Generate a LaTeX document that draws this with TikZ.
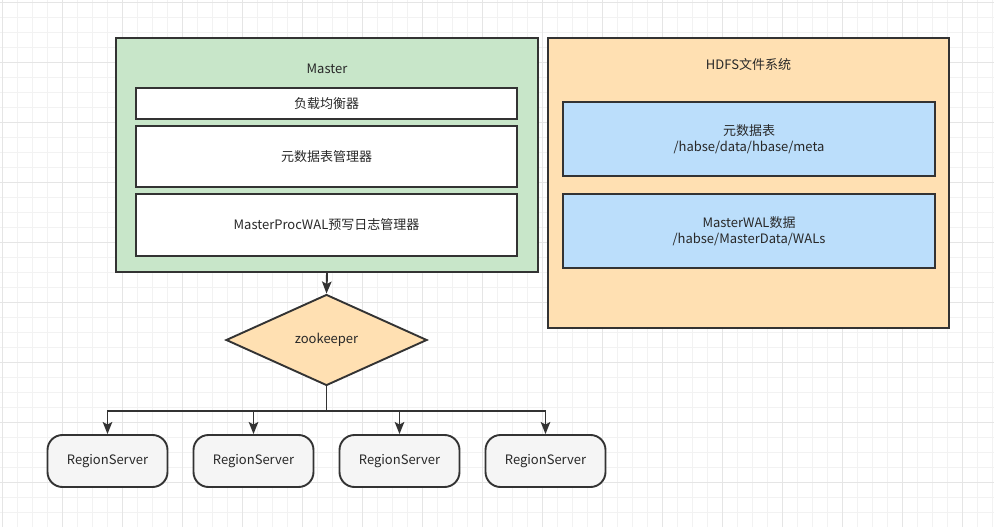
\documentclass[tikz,border=0pt]{standalone}
\usepackage{fontspec}
\setmainfont{Noto Sans CJK SC}
\usepackage{tikz}
\usepackage{xcolor}
\usetikzlibrary{arrows.meta,shapes.geometric,positioning}
\definecolor{hbline}{RGB}{51,51,51}
\definecolor{hbtext}{RGB}{40,40,40}
\definecolor{hbgreen}{RGB}{200,230,201}
\definecolor{hborange}{RGB}{255,224,178}
\definecolor{hbblue}{RGB}{187,222,251}
\definecolor{hbgray}{RGB}{245,245,245}
\definecolor{hbgridminor}{RGB}{242,242,242}
\definecolor{hbgridmajor}{RGB}{229,229,229}
\tikzset{
  hbbox/.style={draw=hbline, line width=1.9pt, fill=white, align=center, inner sep=0pt, text=hbtext},
  hbmaster/.style={hbbox, fill=hbgreen, minimum width=422pt, minimum height=234pt},
  hbhdfs/.style={hbbox, fill=hborange, minimum width=401pt, minimum height=290pt},
  hbinner/.style={hbbox, minimum width=381pt},
  hbfile/.style={hbbox, fill=hbblue, minimum width=372pt, minimum height=74pt},
  hbzk/.style={hbbox, diamond, fill=hborange, minimum width=201pt, minimum height=91pt},
  hbrs/.style={hbbox, fill=hbgray, rounded corners=15pt, minimum width=120pt, minimum height=52pt},
  hbtitle/.style={text=hbtext, inner sep=0pt},
  hbarr/.style={-{Stealth[length=12pt,width=9.5pt,inset=2.5pt]}, line width=1.9pt, draw=hbline}
}

\begin{document}
\begin{tikzpicture}[x=1pt, y=-1pt, font=\fontsize{13}{16}\selectfont]
  \useasboundingbox (0,0) rectangle (994,527);
  \fill[white] (0,0) rectangle (994,527);
  % background grid
  \foreach \g in {2,17,...,992} {
    \draw[hbgridminor, line width=.8pt] (\g,0) -- (\g,527);
  }
  \foreach \g in {2,17,...,527} {
    \draw[hbgridminor, line width=.8pt] (0,\g) -- (994,\g);
  }
  \foreach \g in {2,62,...,992} {
    \draw[hbgridmajor, line width=.8pt] (\g,0) -- (\g,527);
  }
  \foreach \g in {2,62,...,527} {
    \draw[hbgridmajor, line width=.8pt] (0,\g) -- (994,\g);
  }

  % Master
  \node[hbmaster] (master) at (327,155) {};
  \node[hbtitle] (mastertitle) at (327,69) {Master};
  \node[hbinner, minimum height=31pt] (balancer) at (326.5,103.5) {负载均衡器};
  \node[hbinner, minimum height=61pt] (metamgr) at (326.5,156.5) {元数据表管理器};
  \node[hbinner, minimum height=62pt] (walmgr) at (326.5,225) {MasterProcWAL预写日志管理器};

  % HDFS
  \node[hbhdfs] (hdfs) at (748.5,183) {};
  \node[hbtitle] (hdfstitle) at (748.5,65) {HDFS文件系统};
  \node[hbfile] (metafile) at (749,139) {元数据表\\/habse/data/hbase/meta};
  \node[hbfile] (walfile) at (749,231) {MasterWAL数据\\/habse/MasterData/WALs};

  % zookeeper and region servers
  \node[hbzk] (zk) at (326.5,340) {zookeeper};
  \foreach \i/\x in {1/107.5,2/253.5,3/399.5,4/545.5} {
    \node[hbrs] (rs\i) at (\x,461) {RegionServer};
  }
  \coordinate (split) at (326.5,411);

  \draw[hbarr] (master.south) -- (zk.north);
  \foreach \i in {1,...,4} {
    \draw[hbarr] (zk.south) -- (split) -| (rs\i.north);
  }
\end{tikzpicture}
\end{document}
